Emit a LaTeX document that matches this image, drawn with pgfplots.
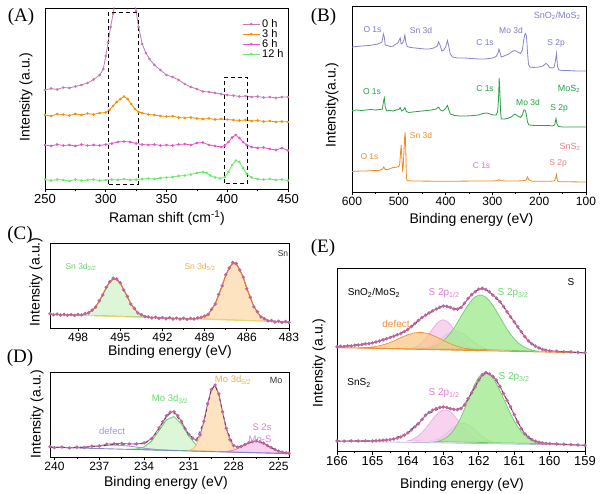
\documentclass[border=0pt]{standalone}
\usepackage{fontspec}
\setmainfont{Liberation Sans}
\newfontfamily\seriffont{Liberation Serif}
\usepackage{pgfplots}
\pgfplotsset{compat=1.18}

\newcommand\fs[1]{\fontsize{#1}{#1}\selectfont}

\definecolor{cA0}{HTML}{C878B0}
\definecolor{cA3}{HTML}{F39200}
\definecolor{cA6}{HTML}{E455C8}
\definecolor{cA12}{HTML}{6CE86C}
\definecolor{cBsm}{HTML}{8484CC}
\definecolor{cBm}{HTML}{2AA048}
\definecolor{cBs}{HTML}{EE8822}
\definecolor{tLav}{HTML}{7C7CC4}
\definecolor{tGrn}{HTML}{22A045}
\definecolor{tOrg}{HTML}{E8902A}
\definecolor{tPnk}{HTML}{D878C8}
\definecolor{mauve}{HTML}{C0649E}
\definecolor{envOrg}{HTML}{E87A1E}
\definecolor{baseY}{HTML}{E8D870}
\definecolor{fGrnL}{HTML}{DDF6D8}
\definecolor{lGrnL}{HTML}{70CC70}
\definecolor{fOrgL}{HTML}{FDE3C0}
\definecolor{lOrgL}{HTML}{F2C46C}
\definecolor{fPnkL}{HTML}{F6D2F0}
\definecolor{lPnk}{HTML}{E27CD6}
\definecolor{lDef}{HTML}{9A9AD8}
\definecolor{baseB}{HTML}{7C8CC0}
\definecolor{envDk}{HTML}{3C3C50}
\definecolor{fGrnE}{HTML}{A8EC98}
\definecolor{fPnkE}{HTML}{F5C8EC}
\definecolor{fGryE}{HTML}{D0D4D0}
\definecolor{fOrgE}{HTML}{F8C88A}
\definecolor{lOrgE}{HTML}{F09030}
\definecolor{tGrnL}{HTML}{6AD86A}
\definecolor{tOrgL}{HTML}{EDB04A}
\definecolor{dkGry}{HTML}{333333}

\pgfplotsset{
  panel/.style={
    scale only axis,
    axis line style={line width=0.8pt},
    tick align=outside,
    xtick pos=bottom,
    ytick=\empty,
    major tick length=3.5pt,
    minor tick length=2pt,
    tick style={black, line width=0.7pt},
    minor x tick num=1,
    ymin=0,
    /pgf/number format/assume math mode=true,
    xticklabel style={inner sep=1.5pt},
  },
}

\begin{document}
\begin{tikzpicture}
\path[use as bounding box] (0pt,0pt) rectangle (601pt,494pt);

% ---------------- (A) Raman
\begin{axis}[panel, at={(45pt,305pt)}, anchor=south west,
  width=243pt, height=181pt,
  xmin=250, xmax=450, ymax=181,
  xtick={250,300,...,450},
  tick label style={font=\fs{13}},
  legend style={draw=none, fill=none, at={(0.995,0.955)}, anchor=north east,
    font=\fs{11}, row sep=-3.5pt, inner sep=1pt},
  legend cell align=left]
\addplot[cA0, line width=0.8pt, mark=*, mark size=0.9pt] coordinates {
(250,99)(255,100.5)(260,99.5)(265,101.5)(270,101)(275,102.5)(280,104)(285,106)(290,109.5)(295,114)(298,120)(300,133)(302,147)(304,162)(306,175)(308,190)(312,230)(316,250)(320,240)(323,200)(325,178)(327,162)(330,145)(333,136)(336,130)(340,124)(345,119)(350,114)(355,112)(360,109)(365,105)(370,102)(375,100)(380,97.5)(385,97)(390,96)(395,95)(400,94)(405,93.5)(410,92.5)(415,93)(420,92)(425,92.5)(430,91.5)(435,92)(440,91)(445,92)(450,92)};
\addplot[cA3, line width=0.8pt, mark=*, mark size=0.9pt] coordinates {
(250,74)(255,73)(260,75)(265,74.5)(270,73.5)(275,75)(280,74)(285,75.5)(290,74.5)(295,76)(300,76.5)(303,79)(306,83)(309,87)(312,90)(315,92.5)(318,90)(321,85)(324,80)(327,77)(330,76)(335,74.5)(340,74)(345,73)(350,72.5)(355,72.8)(360,71.5)(365,71)(370,71.5)(375,70.5)(380,70)(385,70.5)(390,69.5)(395,70)(400,69.5)(405,69)(410,68.5)(415,69)(420,68)(425,68.5)(430,67.5)(435,68)(440,67)(445,67.5)(450,67)};
\addplot[cA6, line width=0.8pt, mark=*, mark size=0.9pt] coordinates {
(250,44)(255,43)(260,44.5)(265,43.5)(270,44)(275,43)(280,44.5)(285,43.5)(290,44)(295,43.5)(300,44.5)(305,45.5)(310,47)(315,47.5)(320,47)(325,45.5)(330,44.5)(335,44)(340,44.5)(345,43.5)(350,44)(355,43.5)(360,44.5)(365,45)(370,44)(375,46)(380,46.5)(385,44)(390,43)(395,42)(398,43.5)(401,47)(404,51.5)(407,54)(410,51)(413,47)(416,44)(420,42)(425,41)(430,41.5)(435,40)(440,39)(445,41)(450,38.5)};
\addplot[cA12, line width=0.8pt, mark=*, mark size=0.9pt] coordinates {
(250,9.5)(255,8.5)(260,9.5)(265,9)(270,8)(275,9.5)(280,8.5)(285,9)(290,9.5)(295,8.5)(300,9)(305,9.5)(310,9)(315,10)(320,9)(325,9.5)(330,10)(335,10.5)(340,10)(345,11)(350,11.5)(355,12)(360,13)(365,13.5)(370,14.5)(375,16)(380,17)(383,16)(386,13.5)(390,11.5)(394,10.5)(398,12)(401,17)(404,24)(407,28.5)(410,27)(413,21)(416,15)(420,11.5)(425,10)(430,9.5)(435,10)(440,9)(445,9.5)(450,8.5)};
\legend{0 h, 3 h, 6 h, 12 h}
\draw[dashed, line width=0.9pt, dash pattern=on 4pt off 3pt] (axis cs:302.5,5) rectangle (axis cs:327,177);
\draw[dashed, line width=0.9pt, dash pattern=on 4pt off 3pt] (axis cs:398,6) rectangle (axis cs:416.5,112);
\end{axis}

% ---------------- (B) XPS survey
\begin{axis}[panel, at={(352pt,302pt)}, anchor=south west,
  width=234pt, height=186pt,
  x dir=reverse, xmin=100, xmax=600, ymax=186,
  xtick={100,200,...,600},
  tick label style={font=\fs{12}}]
\addplot[cBsm, line width=0.8pt] coordinates {
(600,145)(590,145.5)(580,146)(570,146.3)(560,146.7)(550,147.5)(545,148)(540,149)(536,150)(533,158)(531,155)(529,147)(525,146.5)(518,145.5)(512,146)(506,148)(502,149)(499,152)(497,154)(495,148)(492,149)(489,152)(487,157)(485,150)(482,145.5)(475,144.5)(465,144)(455,143.5)(445,143)(435,143)(425,144)(418,146)(415,150)(412,147)(408,141)(404,142)(400,145)(396,151.5)(393,145)(390,138)(385,135)(375,134)(360,134)(345,133.5)(330,133)(315,133)(300,134)(292,135.5)(288,139)(286,143)(284,140)(281,135)(275,136)(265,138)(258,140.5)(252,141.5)(246,140)(240,138.5)(236,142)(233,152)(231,157)(229,158.5)(227,155)(225,140)(223,128)(220,125)(212,124.5)(200,125)(192,126)(186,128.5)(182,127.5)(178,124.5)(172,124)(168,125)(165,132)(163,138.5)(161,126)(158,122)(150,121.5)(140,121.5)(130,121.2)(120,121)(110,121)(100,121)};
\addplot[cBm, line width=0.8pt] coordinates {
(600,81.5)(590,82)(580,81.5)(570,82)(560,82.5)(550,82)(540,82.5)(535,83)(533,90)(531,94)(529,85)(526,81)(520,81.5)(512,81)(506,82)(500,82.5)(497,84.5)(494,81)(490,82)(487,84.5)(484,80.5)(478,79.5)(470,80)(460,80.5)(450,81)(440,81.5)(430,82)(420,83)(415,85)(411,82)(406,81)(400,83.5)(396,86.5)(393,82)(390,78)(380,76.5)(370,76)(355,76)(340,76.5)(330,77)(320,78.5)(312,79)(305,78)(298,77)(292,77)(289,80)(287,92)(285.5,114)(284,100)(282.5,80)(281,73)(275,73)(268,73.5)(260,75)(252,78)(246,76)(240,74.5)(236,77)(233,82)(230.5,82)(228,79)(225,70)(222,67)(210,66.5)(195,66.5)(180,66.5)(172,66)(167,67)(164,73.5)(162,68)(159,65.5)(150,65)(130,65)(100,65)};
\addplot[cBs, line width=0.8pt] coordinates {
(600,20.5)(590,20.8)(580,21)(570,21)(560,21.3)(550,21.5)(540,21.7)(535,23)(532,25)(529,22.5)(524,22.3)(518,23.5)(512,24.5)(505,24.8)(500,25.5)(498,28)(496.5,38)(495,47)(493.5,35)(492,22)(490.5,25)(489,40)(487.5,55)(486.3,59.5)(485,40)(484,18)(483,12)(480,11.2)(470,11)(450,10.9)(420,10.8)(400,10.8)(380,10.8)(350,10.9)(320,11)(300,11)(290,11.3)(286,12.3)(283,11.3)(270,11)(250,11)(235,11.2)(228,12)(225,15)(222,12)(215,10.8)(200,10.8)(180,10.7)(168,11)(165,13.5)(163,17.5)(161,11)(158,10.3)(140,10.2)(120,10.1)(100,10)};
\end{axis}

% ---------------- (C) Sn 3d
\begin{axis}[panel, at={(50pt,166pt)}, anchor=south west,
  width=239pt, height=85pt,
  x dir=reverse, xmin=483, xmax=500, ymax=85,
  xtick={483,486,...,498},
  tick label style={font=\fs{12}}]
\addplot[fill=fGrnL, draw=lGrnL, line width=0.8pt] coordinates {
(498,12.94)(497.5,13.73)(497,17.38)(496.75,21.22)(496.5,26.68)(496.25,33.26)(496,40.15)(495.75,45.84)(495.5,48.83)(495.25,48.31)(495,44.5)(494.75,38.29)(494.5,31.08)(494.25,24.36)(494,19.05)(493.75,15.31)(493.5,12.93)(493,10.9)} --cycle;
\addplot[fill=fOrgL, draw=lOrgL, line width=0.8pt] coordinates {
(489.5,9.46)(489,11.4)(488.75,13.92)(488.5,18.17)(488.25,24.56)(488,32.95)(487.75,42.74)(487.5,52.43)(487.25,60.31)(487,64.4)(486.75,63.79)(486.5,58.58)(486.25,50.06)(486,39.85)(485.75,30.04)(485.5,21.83)(485.25,15.68)(485,11.59)(484.5,7.74)(484,6.65)} --cycle;
\addplot[baseY, line width=1pt] coordinates {(500,13.65)(483,6)};
\addplot[mauve, line width=0.8pt, mark=*, mark size=1.3pt] coordinates {
(500,14.2)(499.75,13.3)(499.5,13.9)(499.25,13.0)(499,13.6)(498.75,12.7)(498.5,13.4)(498.25,12.6)(498,13.5)(497.75,13.1)(497.5,14.3)(497.25,15.2)(497,17.9)(496.75,21.0)(496.5,27.2)(496.25,33.0)(496,40.8)(495.75,46.2)(495.5,49.8)(495.25,49.0)(495,45.3)(494.75,38.0)(494.5,31.6)(494.25,24.0)(494,19.6)(493.75,15.0)(493.5,13.4)(493.25,11.5)(493,11.2)(492.75,10.1)(492.5,10.8)(492.25,9.6)(492,10.4)(491.75,9.3)(491.5,10.2)(491.25,9.0)(491,9.9)(490.75,8.9)(490.5,9.8)(490.25,8.7)(490,9.6)(489.75,9.0)(489.5,10.1)(489.25,10.6)(489,12.0)(488.75,13.6)(488.5,18.8)(488.25,24.0)(488,33.6)(487.75,42.2)(487.5,53.2)(487.25,60.0)(487,65.5)(486.75,64.5)(486.5,58.0)(486.25,50.8)(486,39.2)(485.75,30.7)(485.5,21.2)(485.25,16.3)(485,11.0)(484.75,9.2)(484.5,7.2)(484.25,7.5)(484,6.0)(483.75,6.8)(483.5,5.6)(483.25,6.4)(483,5.5)};
\addplot[envOrg, line width=0.9pt] coordinates {
(500,13.65)(499,13.2)(498.5,13.0)(498,12.94)(497.5,13.73)(497,17.38)(496.75,21.22)(496.5,26.68)(496.25,33.26)(496,40.15)(495.75,45.84)(495.5,48.83)(495.25,48.31)(495,44.5)(494.75,38.29)(494.5,31.08)(494.25,24.36)(494,19.05)(493.75,15.31)(493.5,12.93)(493,10.9)(492.5,10.28)(492,10.05)(491,9.6)(490,9.15)(489.5,9.46)(489,11.4)(488.75,13.92)(488.5,18.17)(488.25,24.56)(488,32.95)(487.75,42.74)(487.5,52.43)(487.25,60.31)(487,64.4)(486.75,63.79)(486.5,58.58)(486.25,50.06)(486,39.85)(485.75,30.04)(485.5,21.83)(485.25,15.68)(485,11.59)(484.5,7.74)(484,6.65)(483.5,6.23)(483,6.0)};
\end{axis}

% ---------------- (D) Mo 3d
\begin{axis}[panel, at={(50pt,37pt)}, anchor=south west,
  width=239pt, height=85pt,
  x dir=reverse, xmin=224.3, xmax=240.3, ymax=84.5,
  xtick={225,228,...,240},
  tick label style={font=\fs{12}}]
\addplot[fill=fGrnL, draw=lGrnL!80!green, line width=0.8pt] coordinates {
(235,7.68)(234.5,8.01)(234,9.98)(233.5,15.78)(233,26.18)(232.5,36.98)(232,40.18)(231.5,32.68)(231,20.68)(230.5,11.58)(230,7.18)(229.5,5.68)} --cycle;
\addplot[fill=fOrgL, draw=lOrgL, line width=0.8pt] coordinates {
(231,6.53)(230.75,7.92)(230.5,11.88)(230.25,20.58)(230,34.98)(229.75,52.68)(229.5,67.18)(229.25,70.98)(229,62.08)(228.75,45.08)(228.5,27.88)(228.25,15.58)(228,8.82)(227.75,5.92)(227.5,4.88)} --cycle;
\addplot[fill=fPnkL, draw=lPnk, line width=0.8pt] coordinates {
(229,5.27)(228.5,5.48)(228,6.76)(227.5,9.85)(227,13.84)(226.5,15.68)(226,13.44)(225.5,9.05)(225,5.56)(224.5,3.88)(224.3,3.6)} --cycle;
\addplot[lDef, line width=0.9pt] coordinates {
(240.3,9.7)(240,9.6)(239,9.37)(238,9.74)(237,10.99)(236,11.93)(235,10.89)(234,8.71)(233,7.17)(232,6.44)};
\addplot[baseB, line width=0.9pt] coordinates {(240.3,9.7)(224.3,3.3)};
\addplot[mauve, line width=0.9pt, mark=*, mark size=1.2pt] coordinates {
(240.3,10.2)(240,9.3)(239.5,9.9)(239,9.0)(238.5,9.8)(238,9.5)(237.5,10.7)(237,10.9)(236.5,12.8)(236,13.2)(235.5,13.5)(235,13.0)(234.5,13.0)(234,14.0)(233.5,18.2)(233,29.0)(232.75,35.0)(232.5,41.0)(232.25,44.5)(232,45.0)(231.75,41.0)(231.5,35.5)(231.25,28.0)(231,22.5)(230.75,18.5)(230.5,17.0)(230.25,22.0)(230,35.5)(229.75,53.0)(229.5,67.0)(229.25,71.5)(229,62.8)(228.75,45.0)(228.5,28.5)(228.25,17.2)(228,11.5)(227.75,9.8)(227.5,10.5)(227.25,12.3)(227,14.2)(226.75,15.3)(226.5,16.0)(226.25,15.2)(226,13.8)(225.75,11.5)(225.5,9.5)(225.25,7.6)(225,5.8)(224.75,4.8)(224.5,4.2)(224.3,3.8)};
\addplot[envDk, line width=0.7pt, dashed] coordinates {
(240.3,9.8)(239,9.4)(238,9.7)(237,10.8)(236,12.6)(235,12.6)(234,13.2)(233.5,17.6)(233,28.0)(232.5,40.0)(232.25,43.5)(232,44.0)(231.5,34.5)(231,22.0)(230.5,17.4)(230,35.0)(229.5,67.0)(229.25,71.0)(229,62.2)(228.5,28.4)(228,11.2)(227.5,10.2)(227,13.8)(226.5,15.7)(226,13.5)(225.5,9.2)(225,5.7)(224.3,3.7)};
\end{axis}

% ---------------- (E) S 2p
\begin{axis}[panel, at={(337pt,43pt)}, anchor=south west,
  width=248pt, height=183pt,
  x dir=reverse, xmin=159, xmax=166, ymax=182.7,
  xtick={159,...,166},
  tick label style={font=\fs{13}}]
% upper spectrum components
\addplot[fill=fGryE, fill opacity=0.8, draw=fGryE!70!black, line width=0.5pt] coordinates {
(163.6,102.58)(163.5,103.37)(163.4,104.58)(163.3,106.3)(163.2,108.53)(163.1,111.18)(163,113.96)(162.9,116.53)(162.8,118.55)(162.7,119.63)(162.6,119.55)(162.5,118.33)(162.4,116.15)(162.3,113.44)(162.2,110.5)(162.1,107.71)(162,105.32)(161.9,103.46)(161.8,102.09)(161.7,101.16)} --cycle;
\addplot[fill=fPnkE, fill opacity=0.8, draw=lPnk!70, line width=0.6pt] coordinates {
(163.9,102.78)(163.8,103.8)(163.7,105.59)(163.6,108.35)(163.5,112.18)(163.4,116.9)(163.3,122.03)(163.2,126.65)(163.1,129.88)(163,131)(162.9,129.73)(162.8,126.35)(162.7,121.58)(162.6,116.3)(162.5,111.43)(162.4,107.45)(162.3,104.54)(162.2,102.6)(162.1,101.43)} --cycle;
\addplot[fill=fGrnE, fill opacity=0.85, draw=lGrnL, line width=0.7pt] coordinates {
(163.4,103.02)(163.3,103.96)(163.2,105.35)(163.1,107.32)(163,109.97)(162.9,113.43)(162.8,117.65)(162.7,122.68)(162.6,128.3)(162.5,134.33)(162.4,140.25)(162.3,145.78)(162.2,150.5)(162.1,153.83)(162,155.55)(161.9,155.48)(161.8,153.6)(161.7,150.13)(161.6,145.25)(161.5,139.58)(161.4,133.5)(161.3,127.33)(161.2,121.55)(161.1,116.38)(161,112)(160.9,108.4)(160.8,105.59)(160.7,103.48)(160.6,101.93)(160.5,100.85)(160.4,100.1)(160.3,99.6)} --cycle;
\addplot[fill=fOrgE, fill opacity=0.75, draw=lOrgE, line width=0.7pt] coordinates {
(165.4,103.04)(165.2,103.25)(165,103.85)(164.8,105.06)(164.6,107.06)(164.4,109.83)(164.2,113.07)(164,116.09)(163.8,118.07)(163.6,118.39)(163.4,116.89)(163.2,113.99)(163,110.45)(162.8,107.08)(162.6,104.38)(162.4,102.49)(162.2,101.32)(162,100.64)} --cycle;
\addplot[lOrgE, line width=1pt] coordinates {(166,103.25)(159,98)};
% lower spectrum components
\addplot[fill=fGryE, fill opacity=0.8, draw=fGryE!70!black, line width=0.5pt] coordinates {
(163.2,11.08)(163.1,12.8)(163,15.12)(162.9,17.97)(162.8,21.08)(162.7,24.02)(162.6,26.36)(162.5,27.6)(162.4,27.54)(162.3,26.18)(162.2,23.72)(162.1,20.66)(162,17.43)(161.9,14.46)(161.8,12.02)(161.7,10.18)(161.6,8.9)} --cycle;
\addplot[fill=fPnkE, fill opacity=0.8, draw=lPnk!70, line width=0.6pt] coordinates {
(164,10.15)(163.9,11.2)(163.8,12.84)(163.7,15.23)(163.6,18.43)(163.5,22.4)(163.4,26.94)(163.3,31.58)(163.2,35.82)(163.1,39.16)(163,40.9)(162.9,40.84)(162.8,38.98)(162.7,35.52)(162.6,31.16)(162.5,26.4)(162.4,21.74)(162.3,17.65)(162.2,14.33)(162.1,11.82)(162,10.06)(161.9,8.89)} --cycle;
\addplot[fill=fGrnE, fill opacity=0.85, draw=lGrnL, line width=0.7pt] coordinates {
(163.2,9.36)(163.1,10.19)(163,11.56)(162.9,13.69)(162.8,16.81)(162.7,21.12)(162.6,26.82)(162.5,33.8)(162.4,41.94)(162.3,50.78)(162.2,59.52)(162.1,67.46)(162,73.7)(161.9,77.44)(161.8,78.38)(161.7,76.62)(161.6,72.76)(161.5,67.1)(161.4,60.14)(161.3,52.48)(161.2,44.62)(161.1,37.06)(161,30.3)(160.9,24.34)(160.8,19.48)(160.7,15.65)(160.6,12.72)(160.5,10.58)(160.4,9.07)(160.3,8.04)(160.2,7.35)} --cycle;
\addplot[baseB!60, line width=0.8pt] coordinates {(166,9.9)(159,5.7)};
% data
\addplot[mauve, line width=1.1pt, mark=*, mark size=1.1pt] coordinates {
(166.0,104.0)(165.9,104.6)(165.8,104.3)(165.7,105.0)(165.6,104.8)(165.5,105.5)(165.4,105.9)(165.3,106.2)(165.2,107.0)(165.1,107.3)(165.0,108.0)(164.9,108.9)(164.8,109.8)(164.7,111.0)(164.6,112.1)(164.5,113.3)(164.4,114.6)(164.3,116.0)(164.2,117.3)(164.1,119.2)(164.0,121.3)(163.9,124.2)(163.8,127.3)(163.7,130.4)(163.6,133.2)(163.5,135.7)(163.4,137.8)(163.3,140.0)(163.2,141.7)(163.1,143.5)(163.0,144.7)(162.9,144.4)(162.8,143.3)(162.7,141.8)(162.6,141.6)(162.5,143.3)(162.4,147.5)(162.3,152.3)(162.2,156.0)(162.1,159.0)(162.0,161.6)(161.9,162.4)(161.8,161.3)(161.7,158.8)(161.6,155.7)(161.5,152.6)(161.4,149.0)(161.3,144.2)(161.2,139.0)(161.1,134.0)(161.0,129.0)(160.9,124.0)(160.8,119.0)(160.7,114.3)(160.6,110.0)(160.5,107.0)(160.4,104.7)(160.3,102.8)(160.2,101.3)(160.1,100.5)(160.0,100.0)(159.8,99.6)(159.6,99.2)(159.4,98.9)(159.2,98.4)(159.0,98.0)};
\addplot[mauve, line width=1.1pt, mark=*, mark size=1.1pt] coordinates {
(166.0,10.0)(165.8,9.8)(165.6,10.1)(165.4,9.9)(165.2,10.2)(165.0,10.0)(164.9,10.3)(164.8,10.5)(164.7,10.8)(164.6,11.0)(164.5,11.3)(164.4,12.0)(164.3,12.9)(164.2,14.0)(164.1,15.8)(164.0,18.0)(163.9,21.0)(163.8,24.2)(163.7,27.3)(163.6,31.6)(163.5,35.7)(163.4,38.5)(163.3,40.8)(163.2,42.3)(163.1,43.5)(163.0,44.0)(162.9,43.4)(162.8,42.3)(162.7,41.5)(162.6,41.3)(162.5,42.5)(162.4,46.0)(162.3,52.3)(162.2,58.0)(162.1,64.0)(162.0,70.7)(161.9,76.0)(161.8,78.2)(161.7,77.0)(161.6,74.5)(161.5,70.7)(161.4,64.5)(161.3,57.3)(161.2,50.5)(161.1,44.0)(161.0,36.2)(160.9,29.0)(160.8,22.5)(160.7,17.3)(160.6,13.8)(160.5,11.3)(160.4,9.8)(160.3,8.7)(160.2,8.0)(160.1,7.6)(160.0,7.3)(159.8,7.0)(159.6,6.8)(159.4,6.4)(159.2,6.0)(159.0,5.7)};
\addplot[envDk, line width=0.6pt, dashed] coordinates {
(166,104)(165,108)(164.5,113.3)(164,121.3)(163.5,135.7)(163,144.7)(162.8,143.3)(162.6,141.6)(162.4,147.5)(162.2,156)(162,161.6)(161.8,161.3)(161.6,155.7)(161.4,149)(161.2,139)(161,129)(160.8,119)(160.6,110)(160.4,104.7)(160,100)(159,98)};
\addplot[envDk, line width=0.6pt, dashed] coordinates {
(166,10)(165,10)(164.5,11.3)(164,18)(163.5,35.7)(163,44)(162.8,42.3)(162.6,41.3)(162.4,46)(162.2,58)(162,70.7)(161.8,78.2)(161.6,74.5)(161.4,64.5)(161.2,50.5)(161,36.2)(160.8,22.5)(160.6,13.8)(160.4,9.8)(160,7.3)(159,5.7)};
\end{axis}

\begin{scope}[x=1pt,y=1pt]
% panel letters
\node at (21,477) {\seriffont\fs{19}(A)};
\node at (323.5,477) {\seriffont\fs{19}(B)};
\node at (20,259) {\seriffont\fs{19}(C)};
\node at (20,136) {\seriffont\fs{19}(D)};
\node at (323,246) {\seriffont\fs{19}(E)};
% axis labels
\node[rotate=90] at (26,397) {\fs{14}Intensity (a.u.)};
\node at (167,276) {\fs{14}Raman shift (cm\textsuperscript{-1})};
\node[rotate=90] at (332,389) {\fs{14}Intensity(a.u.)};
\node at (471.5,274) {\fs{14}Binding energy (eV)};
\node[rotate=90] at (36,212) {\fs{14}Intensity (a.u.)};
\node at (170,142) {\fs{14}Binding energy (eV)};
\node[rotate=90] at (37,80) {\fs{14}Intensity (a.u.)};
\node at (166,11) {\fs{14}Binding energy (eV)};
\node[rotate=90] at (319,131) {\fs{14}Intensity (a.u.)};
\node at (462,9) {\fs{14}Binding energy (eV)};
% B annotations
\node[anchor=east, text=tLav] at (584,478) {\fs{9}SnO\textsubscript{2}/MoS\textsubscript{2}};
\node[text=tLav] at (372.5,464) {\fs{8.5}O 1s};
\node[text=tLav] at (421,464) {\fs{8.5}Sn 3d};
\node[text=tLav] at (511,464) {\fs{8.5}Mo 3d};
\node[text=tLav] at (485,451) {\fs{8.5}C 1s};
\node[text=tLav] at (556,451) {\fs{8.5}S 2p};
\node[text=tGrn] at (372,402) {\fs{8.5}O 1s};
\node[text=tGrn] at (485,405) {\fs{8.5}C 1s};
\node[text=tGrn] at (569,405) {\fs{9}MoS\textsubscript{2}};
\node[text=tGrn] at (528,392) {\fs{8.5}Mo 3d};
\node[text=tGrn] at (559,386) {\fs{8.5}S 2p};
\node[text=tOrg] at (369.5,337) {\fs{8.5}O 1s};
\node[text=tOrg] at (421,359) {\fs{8.5}Sn 3d};
\node[text=tPnk] at (481.5,328) {\fs{8.5}C 1s};
\node[text=tPnk!60!tOrg] at (570,347) {\fs{9}SnS\textsubscript{2}};
\node[text=tPnk!50!tOrg] at (558,331) {\fs{8.5}S 2p};
% C annotations
\node[text=tGrnL] at (81,227) {\fs{8.5}Sn 3d\textsubscript{3/2}};
\node[text=tOrgL] at (200,227) {\fs{8.5}Sn 3d\textsubscript{5/2}};
\node[text=dkGry] at (283,240) {\fs{8.5}Sn};
% D annotations
\node[text=dkGry] at (276,114) {\fs{9}Mo};
\node[text=tOrgL] at (233,114) {\fs{9.5}Mo 3d\textsubscript{5/2}};
\node[text=tGrnL] at (170,95) {\fs{9.5}Mo 3d\textsubscript{3/2}};
\node[text=lDef] at (112,63) {\fs{9.5}defect};
\node[text=lPnk] at (262,67) {\fs{9.5}S 2s};
\node[text=lPnk] at (260,55) {\fs{9.5}Mo-S};
% E annotations
\node at (374,201) {\fs{10}SnO\textsubscript{2}/MoS\textsubscript{2}};
\node at (571,212) {\fs{10}S};
\node[text=lPnk] at (444,201) {\fs{10}S 2p\textsubscript{1/2}};
\node[text=tGrnL] at (513,201) {\fs{10}S 2p\textsubscript{3/2}};
\node[text=lOrgE] at (396,170) {\fs{10}defect};
\node at (359,111) {\fs{10}SnS\textsubscript{2}};
\node[text=lPnk] at (444,101) {\fs{10}S 2p\textsubscript{1/2}};
\node[text=tGrnL] at (514,117) {\fs{10}S 2p\textsubscript{3/2}};
\end{scope}
\end{tikzpicture}
\end{document}
